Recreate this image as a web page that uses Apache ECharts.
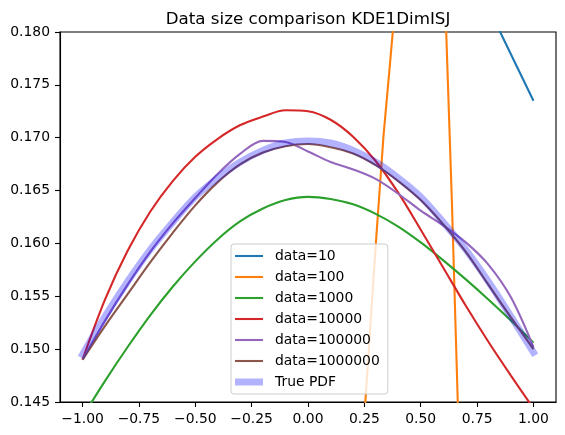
<!DOCTYPE html>
<html><head><meta charset="utf-8">
<script src="https://cdn.jsdelivr.net/npm/echarts@6/dist/echarts.min.js"></script>
<style>html,body{margin:0;padding:0;background:#fff}#c{width:565px;height:435px}</style>
</head><body><div id="c"></div>
<script>
const titleText = 'Data size comparison KDE1DimISJ';
const seriesNames = ['data=10', 'data=100', 'data=1000', 'data=10000', 'data=100000', 'data=1000000', 'True PDF'];
const seriesColors = ['#1f77b4', '#ff7f0e', '#2ca02c', '#d62728', '#9467bd', '#8c564b', 'rgba(0,0,255,0.3)'];

const xGrid = [-1.0, -0.9, -0.8, -0.7, -0.6, -0.5, -0.4, -0.3, -0.2, -0.1, 0.0, 0.1, 0.2, 0.3, 0.4, 0.5, 0.6, 0.7, 0.8, 0.9, 1.0];

const data10X = [0.6, 0.7, 0.8, 0.9, 1.0];
const data10Y = [0.1911, 0.1867, 0.1823, 0.1779, 0.1735];

const data100X = [-1.0, 0.2, 0.254, 0.301, 0.335, 0.362, 0.376, 0.45, 0.55, 0.613, 0.638, 0.665, 0.75, 1.0];
const data100Y = [0.05, 0.12, 0.1449, 0.1600, 0.1702, 0.1766, 0.1800, 0.205, 0.205, 0.1800, 0.1641, 0.1445, 0.10, 0.05];

const data1000 = [0.1436, 0.1470, 0.1502, 0.1532, 0.1559, 0.1583, 0.1604, 0.1621, 0.1633, 0.1641, 0.1644, 0.1642, 0.1637, 0.1628, 0.1616, 0.1601, 0.1584, 0.1566, 0.1547, 0.1527, 0.1506];
const data10000 = [0.1490, 0.1547, 0.1593, 0.1630, 0.1659, 0.1682, 0.1699, 0.1712, 0.1720, 0.1726, 0.1725, 0.1717, 0.1701, 0.1678, 0.1648, 0.1613, 0.1577, 0.1541, 0.1507, 0.1475, 0.1444];
const data100000 = [0.1490, 0.1527, 0.1561, 0.1592, 0.1619, 0.1643, 0.1666, 0.1685, 0.1697, 0.1696, 0.1687, 0.1677, 0.1670, 0.1661, 0.1647, 0.1631, 0.1617, 0.1601, 0.1580, 0.1549, 0.1502];
const data1000000 = [0.1490, 0.1522, 0.1552, 0.1582, 0.1610, 0.1636, 0.1658, 0.1675, 0.1686, 0.1692, 0.1694, 0.1691, 0.1685, 0.1674, 0.1659, 0.1641, 0.1618, 0.1592, 0.1561, 0.1530, 0.1500];
const truePdf = [0.1495, 0.1531, 0.1564, 0.1594, 0.1620, 0.1644, 0.1662, 0.1677, 0.1688, 0.1695, 0.1697, 0.1695, 0.1688, 0.1677, 0.1662, 0.1644, 0.1620, 0.1594, 0.1564, 0.1531, 0.1497];

const xTicks = [-1.0, -0.75, -0.5, -0.25, 0.0, 0.25, 0.5, 0.75, 1.0];
const yTicks = [0.145, 0.150, 0.155, 0.160, 0.165, 0.170, 0.175, 0.180];

const FONT = 'DejaVu Sans';
const pairs = (xs, ys) => xs.map((x, i) => [x, ys[i]]);
const gridSeries = [null, null, data1000, data10000, data100000, data1000000, truePdf];
const seriesData = [pairs(data10X, data10Y), pairs(data100X, data100Y)]
  .concat(gridSeries.slice(2).map(a => pairs(xGrid, a)));

const thinIcon = 'path://M0,0M35,7M0,2.45h28v2.1h-28z';
const thickIcon = 'path://M0,0M35,7M0,0h28v7h-28z';

const chart = echarts.init(document.getElementById('c'), null, {renderer: 'canvas'});
chart.setOption({
  animation: false,
  backgroundColor: '#ffffff',
  title: {
    text: titleText, left: 308, top: 11, textAlign: 'center', padding: 0,
    textStyle: {fontFamily: FONT, fontSize: 16.7, fontWeight: 'normal', color: '#000'}
  },
  grid: {left: 60, right: 9, top: 32, bottom: 33, show: true, borderColor: '#000', borderWidth: 1.1, backgroundColor: 'transparent', outerBoundsMode: 'none'},
  xAxis: {
    type: 'value', min: -1.1, max: 1.1,
    axisLine: {show: true, onZero: false, lineStyle: {color: '#000', width: 1.1}},
    axisTick: {show: true, length: 5, lineStyle: {color: '#000', width: 1.1}, customValues: xTicks},
    axisLabel: {color: '#000', fontFamily: FONT, fontSize: 13.9, margin: 10, customValues: xTicks,
      formatter: v => v.toFixed(2).replace('-', '\u2212')},
    splitLine: {show: false}
  },
  yAxis: {
    type: 'value', min: 0.145, max: 0.180,
    axisLine: {show: true, onZero: false, lineStyle: {color: '#000', width: 1.1}},
    axisTick: {show: true, length: 5, lineStyle: {color: '#000', width: 1.1}, customValues: yTicks},
    axisLabel: {color: '#000', fontFamily: FONT, fontSize: 13.9, margin: 10, customValues: yTicks,
      formatter: v => v.toFixed(3)},
    splitLine: {show: false}
  },
  legend: {
    orient: 'vertical', left: 231, top: 244,
    padding: [5, 8, 5, 4], itemGap: 7, itemWidth: 35, itemHeight: 7,
    backgroundColor: 'rgba(255,255,255,0.8)', borderColor: '#cccccc', borderWidth: 1, borderRadius: 3,
    selectedMode: false,
    itemStyle: {borderWidth: 0},
    textStyle: {fontFamily: FONT, fontSize: 13.9, color: '#000', padding: 0, lineHeight: 14},
    data: seriesNames.map((n, i) => ({name: n, icon: i === 6 ? thickIcon : thinIcon, itemStyle: {color: seriesColors[i]}}))
  },
  series: seriesNames.map((n, i) => ({
    name: n, type: 'line', data: seriesData[i],
    showSymbol: false, symbol: 'none', smooth: i >= 2 ? 0.33 : false, clip: true, silent: true,
    itemStyle: {color: seriesColors[i]},
    lineStyle: {color: seriesColors[i], width: i === 6 ? 6.9 : 2.1, cap: i === 6 ? 'square' : 'butt'},
    z: 2 + i * 0.01
  }))
});
</script></body></html>
